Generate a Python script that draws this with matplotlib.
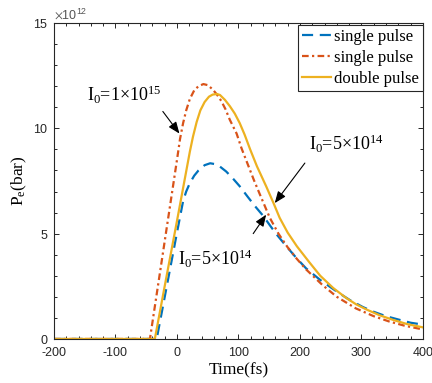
import matplotlib
matplotlib.use('Agg')
import matplotlib.pyplot as plt
from matplotlib.ticker import MultipleLocator, ScalarFormatter

# ---- data (pressure in units of 1e12 bar) ----
t_blue = [-200, -33, -15, 0, 10, 15, 21, 28, 35, 45, 54, 62, 70, 80, 90, 102, 115, 127,
          140, 151, 161, 175, 194, 210, 233, 250, 265, 281, 302, 319, 340, 363, 380, 400]
p_blue = [0, 0, 2.75, 5.05, 6.55, 7.0, 7.4, 7.75, 8.0, 8.25, 8.34, 8.3, 8.18, 7.95, 7.65,
          7.25, 6.75, 6.3, 5.85, 5.4, 5.0, 4.5, 3.85, 3.35, 2.8, 2.45, 2.15, 1.85, 1.52,
          1.3, 1.08, 0.9, 0.77, 0.68]

t_red = [-200, -44, -30, -15, 0, 5, 10, 15, 21, 28, 35, 43, 50, 58, 65, 72, 79, 86, 97,
         105, 115, 125, 135, 151, 165, 180, 195, 210, 237, 260, 291, 320, 345, 370, 400]
p_red = [0, 0, 2.7, 5.6, 8.5, 9.5, 10.25, 10.85, 11.4, 11.8, 12.0, 12.1, 12.05, 11.85,
         11.6, 11.3, 10.9, 10.4, 9.75, 9.05, 8.3, 7.55, 6.85, 5.75, 5.0, 4.35, 3.8, 3.3,
         2.55, 2.0, 1.45, 1.08, 0.83, 0.63, 0.45]

t_orange = [-200, -36, -20, 0, 21, 26, 32, 38, 45, 52, 58, 65, 70, 78, 86, 94, 102, 110,
            119, 130, 145, 157, 167, 180, 195, 215, 233, 254, 275, 291, 308, 330, 352, 375, 400]
p_orange = [0, 0, 2.5, 5.6, 8.9, 9.6, 10.3, 10.85, 11.25, 11.5, 11.6, 11.63, 11.58, 11.35,
            11.05, 10.7, 10.25, 9.7, 9.0, 8.2, 7.25, 6.45, 5.75, 5.05, 4.4, 3.65, 3.0, 2.42,
            1.95, 1.65, 1.4, 1.12, 0.9, 0.7, 0.55]

labels = ["single pulse", "single pulse", "double pulse"]
scale = 1e12

plt.rcParams['font.family'] = ['Liberation Sans', 'DejaVu Sans']
plt.rcParams['mathtext.fontset'] = 'custom'
plt.rcParams['mathtext.rm'] = 'Liberation Serif'
plt.rcParams['mathtext.it'] = 'Liberation Serif:italic'
plt.rcParams['axes.unicode_minus'] = False

dark = '#262626'
c_blue, c_red, c_orange = '#0072BD', '#D95319', '#EDB120'

fig = plt.figure(figsize=(4.32, 3.83), dpi=100)
ax = fig.add_axes([0.125, 0.115, 0.854, 0.825])

ax.plot(t_blue, [p * scale for p in p_blue], color=c_blue, lw=1.6,
        linestyle=(0, (5, 3)), label=labels[0])
ax.plot(t_red, [p * scale for p in p_red], color=c_red, lw=1.6,
        linestyle=(0, (3, 1.5, 1, 1.5)), label=labels[1])
ax.plot(t_orange, [p * scale for p in p_orange], color=c_orange, lw=1.6,
        linestyle='-', label=labels[2])

ax.set_xlim(-200, 400)
ax.set_ylim(0, 15 * scale)
ax.xaxis.set_major_locator(MultipleLocator(100))
ax.xaxis.set_minor_locator(MultipleLocator(20))
ax.yaxis.set_major_locator(MultipleLocator(5 * scale))
ax.yaxis.set_minor_locator(MultipleLocator(1 * scale))
fmt = ScalarFormatter(useMathText=True)
fmt.set_powerlimits((12, 12))
ax.yaxis.set_major_formatter(fmt)

ax.tick_params(which='both', direction='in', top=True, right=True, colors=dark,
               labelsize=9, width=0.7)
ax.tick_params(which='major', length=3.5)
ax.tick_params(which='minor', length=2.5)
ax.tick_params(axis='x', which='major', pad=6)
ax.tick_params(axis='y', which='major', pad=4)
for s in ax.spines.values():
    s.set_color(dark)
    s.set_linewidth(0.8)

off = ax.yaxis.get_offset_text()
off.set_fontsize(9)
off.set_color('#555555')
off.set_math_fontfamily('stixsans')

serif = ['Liberation Serif', 'DejaVu Serif']
ax.set_xlabel('Time(fs)', family=serif, fontsize=12.5, labelpad=2)
ax.set_ylabel('P$_\\mathrm{e}$(bar)', family=serif, fontsize=12.5, labelpad=3)

leg = ax.legend(loc='upper right', bbox_to_anchor=(1.0, 0.995), borderaxespad=0,
                prop={'family': serif, 'size': 12}, fancybox=False, framealpha=1,
                edgecolor=dark, handlelength=1.7, handletextpad=0.2,
                labelspacing=0.3, borderpad=0.25)
leg.get_frame().set_linewidth(0.8)

arrow = dict(arrowstyle='-|>,head_length=0.7,head_width=0.28', color='black',
             lw=0.8, shrinkA=0, shrinkB=0)
ax.annotate('', xy=(4, 9.75 * scale), xytext=(-23, 10.8 * scale), arrowprops=arrow)
ax.annotate('', xy=(159, 6.45 * scale), xytext=(208, 8.35 * scale), arrowprops=arrow)
ax.annotate('', xy=(145, 5.9 * scale), xytext=(124, 5.0 * scale), arrowprops=arrow)

ax.text(-146, 11.3 * scale, 'I$_0$=1×10$^{15}$', family=serif, fontsize=13)
ax.text(214, 8.97 * scale, 'I$_0$=5×10$^{14}$', family=serif, fontsize=13)
ax.text(2, 3.5 * scale, 'I$_0$=5×10$^{14}$', family=serif, fontsize=13)

fig.savefig('out.png', dpi=100, facecolor='white')
